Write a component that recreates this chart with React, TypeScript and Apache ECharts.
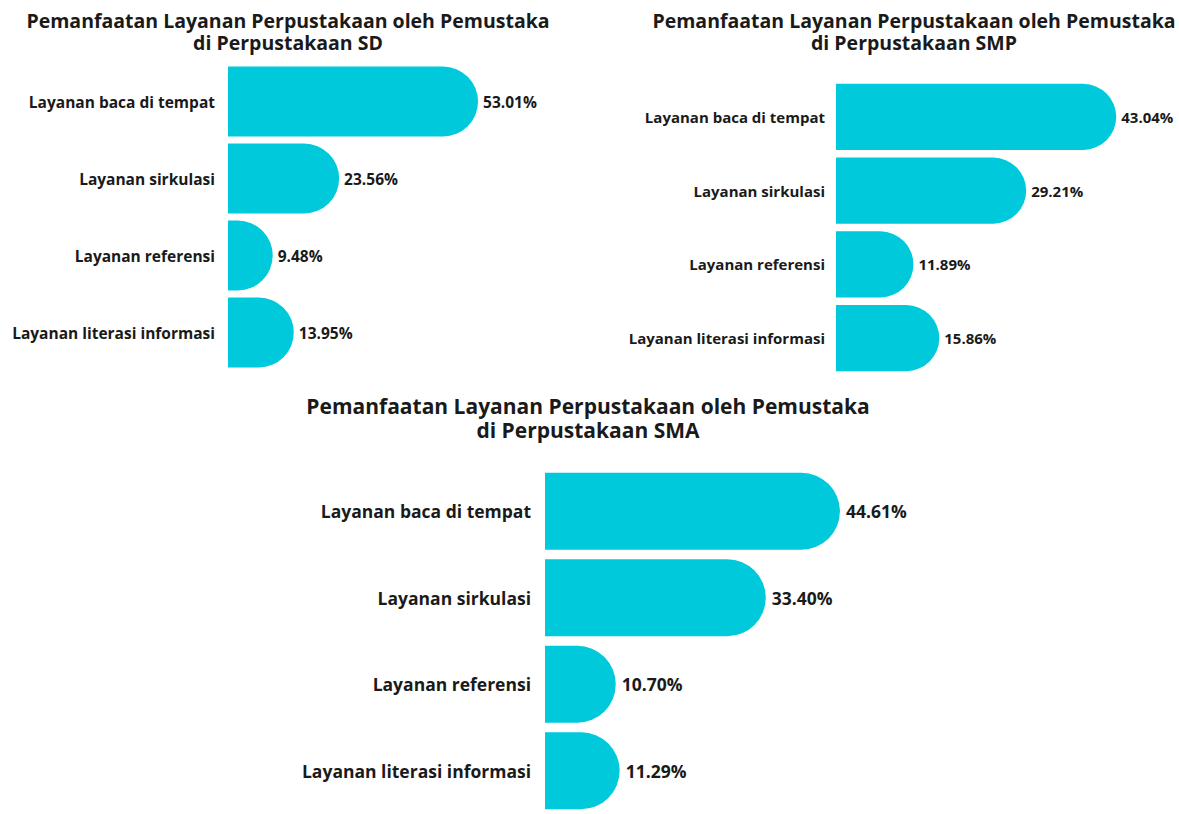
import React, { useEffect, useRef } from "react";
import * as echarts from "echarts";

const categories = [
  "Layanan baca di tempat",
  "Layanan sirkulasi",
  "Layanan referensi",
  "Layanan literasi informasi",
];
const sdValues = [53.01, 23.56, 9.48, 13.95];
const smpValues = [43.04, 29.21, 11.89, 15.86];
const smaValues = [44.61, 33.4, 10.7, 11.29];
const titleLine1 = "Pemanfaatan Layanan Perpustakaan oleh Pemustaka";
const titleLine2 = ["di Perpustakaan SD", "di Perpustakaan SMP", "di Perpustakaan SMA"];

const FONT = "'Open Sans', 'Noto Sans', sans-serif";
const BAR = "#00C9DB";
const TEXT = "#1a1a1a";

export default function App() {
  const ref = useRef<HTMLDivElement>(null);
  useEffect(() => {
    if (!ref.current) return;
    const chart = echarts.init(ref.current, null, { renderer: "svg" });
    const panels = [
      { left: 228, top: 63, height: 308, width: 283, max: 60, gap: "9%", fs: 15.5, margin: 13, dist: 5, r: 35, data: sdValues,
        tx: 288, ty: 9, tfs: 19.5, tlh: 22 },
      { left: 836, top: 80, height: 295, width: 293, max: 45, gap: "10.5%", fs: 15, margin: 11, dist: 5, r: 33, data: smpValues,
        tx: 914, ty: 9, tfs: 19.5, tlh: 22 },
      { left: 545, top: 468, height: 356, width: 297.5, max: 45, gap: "11%", fs: 17.5, margin: 14, dist: 6, r: 40, data: smaValues,
        tx: 588, ty: 394, tfs: 21, tlh: 24 },
    ];
    const titleStyle = (fs: number, lh: number) => ({
      fontFamily: FONT,
      fontWeight: "bold",
      fontSize: fs,
      lineHeight: lh,
      color: TEXT,
    });
    const titles: any[] = [];
    panels.forEach((p, i) => {
      titles.push({ text: titleLine1, left: p.tx, top: p.ty, textAlign: "center", padding: 0, textStyle: titleStyle(p.tfs, p.tlh) });
      titles.push({ text: titleLine2[i], left: p.tx, top: p.ty + p.tlh, textAlign: "center", padding: 0, textStyle: titleStyle(p.tfs, p.tlh) });
    });
    chart.setOption({
      animation: false,
      backgroundColor: "#ffffff",
      title: titles,
      grid: panels.map((p) => ({ left: p.left, top: p.top, width: p.width, height: p.height, containLabel: false })),
      xAxis: panels.map((p, i) => ({
        type: "value",
        gridIndex: i,
        min: 0,
        max: p.max,
        show: false,
      })),
      yAxis: panels.map((p, i) => ({
        type: "category",
        gridIndex: i,
        data: categories,
        inverse: true,
        axisLine: { show: false },
        axisTick: { show: false },
        splitLine: { show: false },
        axisLabel: { fontFamily: FONT, fontWeight: "bold", fontSize: p.fs, color: TEXT, margin: p.margin },
      })),
      series: panels.map((p, i) => ({
        type: "bar",
        xAxisIndex: i,
        yAxisIndex: i,
        data: p.data,
        barCategoryGap: p.gap,
        itemStyle: { color: BAR, borderRadius: [0, p.r, p.r, 0] },
        label: {
          show: true,
          position: "right",
          distance: p.dist,
          formatter: (d: any) => d.value.toFixed(2) + "%",
          fontFamily: FONT,
          fontWeight: "bold",
          fontSize: p.fs,
          color: TEXT,
        },
      })),
    });
    return () => chart.dispose();
  }, []);
  return (
    <div
      ref={ref}
      style={{ position: "absolute", left: 0, top: 0, width: 1179, height: 814 }}
    />
  );
}
